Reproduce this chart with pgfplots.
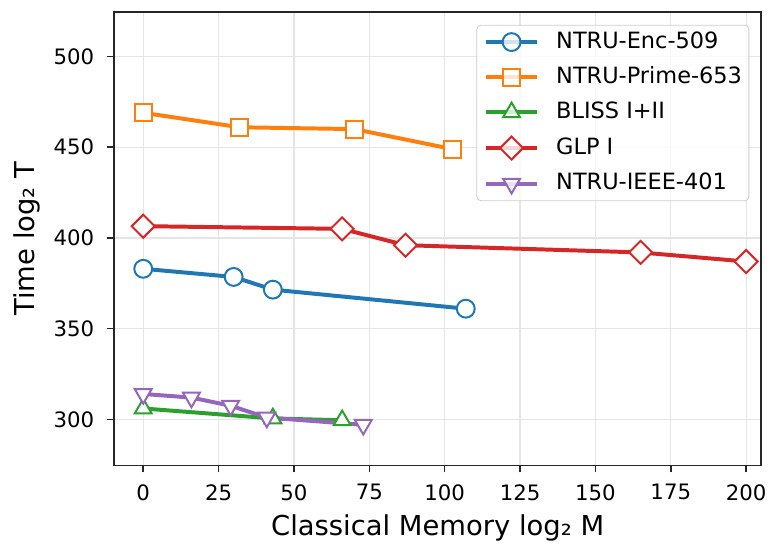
\documentclass[border=0pt]{standalone}
\usepackage{fontspec}
\setmainfont{DejaVu Sans}
\usepackage{pgfplots}
\pgfplotsset{compat=1.18}
\definecolor{tabblue}{HTML}{1F77B4}
\definecolor{taborange}{HTML}{FF7F0E}
\definecolor{tabgreen}{HTML}{2CA02C}
\definecolor{tabred}{HTML}{D62728}
\definecolor{tabpurple}{HTML}{9467BD}

\begin{document}
\begin{tikzpicture}
\begin{axis}[
  scale only axis,
  width=326pt, height=228.5pt,
  xmin=-9.65, xmax=205,
  ymin=274.6, ymax=524.6,
  xtick={0,25,...,200},
  ytick={300,350,...,500},
  grid=major,
  grid style={line width=0.6pt, black!10},
  axis line style={line width=0.8pt, black!85},
  tick align=outside, tick pos=left,
  major tick length=3.5pt,
  tick style={line width=0.8pt, black!85},
  ticklabel style={font=\fontsize{10.7}{12}\selectfont},
  xticklabel style={yshift=-2.5pt},
  yticklabel style={xshift=-3pt},
  /pgf/number format/assume math mode=true,
  xlabel={Classical Memory log₂ M},
  ylabel={Time log₂ T},
  label style={font=\fontsize{13.8}{16}\selectfont},
  xlabel style={yshift=-0.5pt},
  legend style={at={(1,1)}, anchor=north east, xshift=-6pt, yshift=-6.5pt,
    draw=black!20, rounded corners=2pt, fill=white, fill opacity=0.8, text opacity=1,
    font=\fontsize{11.3}{13}\selectfont, row sep=6.7pt, inner xsep=3.5pt, inner ysep=3pt,
    nodes={inner sep=0pt, text height=8.5pt, text depth=2.5pt},
    /tikz/every odd column/.append style={column sep=8.5pt}},
  legend cell align=left,
  legend image code/.code={
    \draw[mark repeat=2, mark phase=2] plot coordinates {(0pt,0pt) (13pt,0pt) (26pt,0pt)};
  },
]
\addplot[tabblue, line width=2pt, mark=*, mark size=4.5pt, mark options={fill=white, line width=1pt}]
  coordinates {(0,383) (30,378.5) (43,371.5) (107,361)};
\addlegendentry{NTRU-Enc-509}

\addplot[taborange, line width=2pt, mark=square*, mark size=4.3pt, mark options={fill=white, line width=1pt}]
  coordinates {(0,469) (32,461) (70,460) (102.5,449)};
\addlegendentry{NTRU-Prime-653}

\addplot[tabgreen, line width=2pt, mark=triangle*, mark size=4.9pt, mark options={fill=white, line width=1pt}]
  coordinates {(0,306) (43,300.5) (66,299.5)};
\addlegendentry{BLISS I+II}

\addplot[tabred, line width=2pt, mark=square*, mark size=4.1pt, mark options={fill=white, line width=1pt, rotate=45}]
  coordinates {(0,406.5) (66,405) (87,396) (165,392) (200,387)};
\addlegendentry{GLP I}

\addplot[tabpurple, line width=2pt, mark=triangle*, mark size=4.9pt, mark options={fill=white, line width=1pt, rotate=180}]
  coordinates {(0,314) (16,312) (29,307.5) (41,301) (73,297)};
\addlegendentry{NTRU-IEEE-401}
\end{axis}
\path ([shift={(-57.5pt,-37.5pt)}]current axis.south west) rectangle ([shift={(3pt,6pt)}]current axis.north east);
\end{tikzpicture}
\end{document}
